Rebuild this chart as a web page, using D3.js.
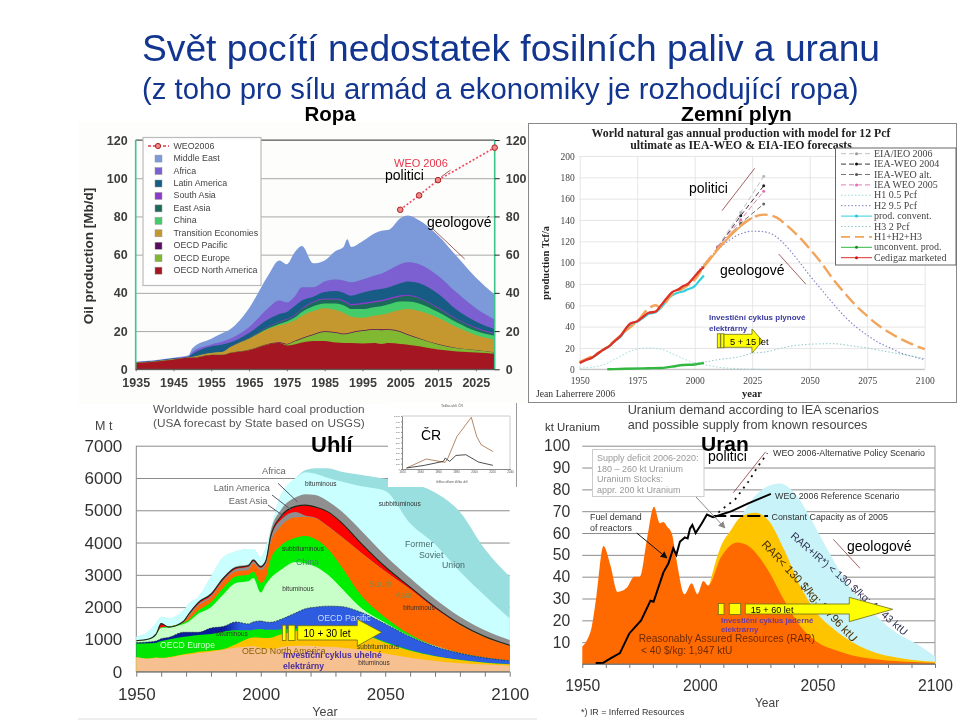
<!DOCTYPE html>
<html><head><meta charset="utf-8">
<script src="https://cdn.jsdelivr.net/npm/d3@7/dist/d3.min.js"></script>
<style>html,body{margin:0;background:#fff}svg{display:block;font-family:"Liberation Sans",Arial,sans-serif}</style>
</head><body><svg id="c" width="960" height="720"></svg>
<script>
// ---------- OIL ----------
const oilYears=[1935,1940,1945,1949,1950,1955,1958,1960,1965,1970,1973,1975,1977,1979,1982,1985,1988,1990,1991,1992,1995,1998,2000,2002,2005,2007,2010,2015,2020,2025,2030];
const oilNorthAmerica=[3.3,4,5,6,6,7.5,7.5,8.5,10,13,13.7,12.5,13,14,14.8,14.8,14,13.8,13.7,13.7,13.5,13.7,13.3,13.7,13.2,12.8,12,10.3,9.3,8.8,8.2];
const oilEurope=[3.3,4,5,6,6.1,7.6,7.6,8.6,10.1,13.1,13.8,13,14.5,16,18,19.5,19,18.3,18.5,19,20,20.7,20.5,20.6,19.5,18,16,13,11,10,8.8];
const oilPacific=[3.3,4,5,6,6.1,7.6,7.6,8.6,10.2,13.3,14.1,13.3,14.8,16.4,18.4,19.9,19.4,18.7,18.9,19.4,20.4,21.1,20.9,21,19.9,18.3,16.3,13.2,11.2,10.1,8.9];
const oilTransition=[3.4,4.1,5.2,6.2,6.5,8.5,9,11.5,16,21,23,24,25.5,28,30.5,32,31,29.5,28.5,27.5,27,28,28.5,29.5,31,31.5,30.5,27,22,18,15.5];
const oilChina=[3.4,4.1,5.2,6.2,6.5,8.5,9,11.5,16,21.3,23.7,25,27,30,33,34.5,34.5,33.5,32.5,31.5,31.5,32.5,33,34,35.5,35.5,34.5,30,24.5,20,17.5];
const oilEastAsia=[3.5,4.2,5.3,6.3,6.7,8.7,9.3,11.8,16.5,22,24.7,26,28,31.5,35,36.5,36.5,35.5,34.5,33.5,34,35,35.5,36.5,38,38.5,37,32,26,21.5,18.5];
const oilSouthAsia=[3.5,4.2,5.3,6.3,6.7,8.7,9.3,11.9,16.7,22.3,25,26.4,28.4,32,35.5,37,37,36.2,35.2,34.2,34.8,35.8,36.3,37.3,38.7,39,37.5,32.5,26.5,22,19];
const oilLatinAmerica=[3.7,4.4,5.6,6.6,8,12,13,14,19,26,29,30,33,36,38,40.5,41,40,39,38.5,40,41.5,42,43,45,46,45,39.5,31,25,21];
const oilAfrica=[3.8,4.5,5.8,6.8,9,13,14.5,16,22,32,36,35,38,43,43,46,47,46.5,46,45.5,47,49,50,52,55,56,55,49,40,32,26];
const oilMiddleEast=[4,4.7,6,7.3,11,16,19,21,32,49,57,55,61,64.5,55.5,57,62,64,68,64,67,71,72.5,73,79,80.5,78,70,59,48,39];
const weoYears=[2005,2010,2015,2030];
const weoValues=[83.5,91,99,116];
const oilLegend=["Middle East","Africa","Latin America","South Asia","East Asia","China","Transition Economies","OECD Pacific","OECD Europe","OECD North America"];
const oilYTicks=[0,20,40,60,80,100,120];
const oilXTicks=[1935,1945,1955,1965,1975,1985,1995,2005,2015,2025];
// ---------- GAS ----------
const gasHistYears=[1950,1953,1955,1958,1960,1963,1965,1968,1970,1972,1975,1978,1980,1983,1985,1988,1990,1993,1995,1997,2000,2002,2004];
const gasCedigaz=[6,9,10.5,15,18,22,26,32,38,43,45,50,53,54,59,67,72,75,78,80,87,92,96];
const gasConvent=[6,9,10.5,14.5,18,22,26,31,37,42,44.5,49,52,53.5,57,65,69,72,73,75,78,83,88];
const gasTotalYears=[1950,1960,1970,1975,1980,1983,1985,1990,1995,2000,2005,2010,2015,2020,2025,2030,2035,2040,2045,2050,2055,2060,2065,2070,2075,2080,2085,2090,2095,2100];
const gasTotal=[7,18,36,45,57,60,58,70,76,84,100,113,125,135,142,145,143,135,125,113,100,85,72,60,50,41,34,28,23,19];
const gasH1Years=[1950,1960,1965,1970,1975,1980,1985,1990,1995,2000,2005,2010,2020,2030];
const gasH1=[1,4,9,15,19,20,19,15,10,6,4,2,0.5,0];
const gasH2Years=[2000,2005,2010,2015,2020,2025,2030,2035,2040,2045,2050,2055,2060,2065,2070,2075,2080,2085,2090,2095,2100];
const gasH2=[88,101,112,121,127,129.5,129,125,115,102,88,75,62,50,40,32,25,20,15,12,9];
const gasH3Years=[2000,2005,2010,2020,2025,2030,2040,2050,2060,2070,2075,2080,2090,2100];
const gasH3=[6,7,9,12,15,16,21,23.5,24,21.5,20,18,14,10];
const gasUnconvYears=[1962,1970,1980,1985,1990,1995,2000,2004];
const gasUnconv=[0,0.5,1,1.2,2.5,4,4.5,6];
const gasWeoYears=[2010,2020,2030];
const gasEIA=[115,147,181];
const gasWEO2004=[114,144,172];
const gasWEOalt=[113,137,155];
const gasWEO2005=[115,140,167];
const gasLegend=["EIA/IEO 2006","IEA-WEO 2004","IEA-WEO alt.","IEA WEO 2005","H1 0.5 Pcf","H2 9.5 Pcf","prod. convent.","H3 2 Pcf","H1+H2+H3","unconvent. prod.","Cedigaz marketed"];
const gasYTicks=[0,20,40,60,80,100,120,140,160,180,200];
const gasXTicks=[1950,1975,2000,2025,2050,2075,2100];
// ---------- COAL ----------
const coalYears=[1950,1955,1958,1960,1963,1969,1971,1975,1980,1985,1990,1995,1997,2000,2002,2004,2008,2014,2018,2022,2027,2032,2040,2050,2060,2070,2080,2090,2100];
const coalNABit=[450,400,430,420,430,520,530,580,620,680,750,780,790,740,730,700,760,800,800,790,770,750,680,560,430,330,260,220,190];
const coalNASub=[450,410,440,430,450,540,560,620,650,700,850,1030,1060,1050,1040,1050,1150,1250,1300,1320,1340,1320,1180,900,650,480,360,280,230];
const coalEurope=[870,880,900,950,1000,1080,1100,1140,1170,1240,1280,1280,1300,1320,1300,1300,1310,1340,1370,1380,1380,1350,1210,930,670,490,370,285,235];
const coalPacific=[900,920,950,1020,1060,1220,1220,1220,1350,1400,1540,1480,1540,1570,1540,1530,1620,1820,1950,2000,2030,2020,1850,1480,1080,780,570,430,340];
const coalChinaBit=[950,1000,1150,1350,1380,1480,1550,1800,2000,2400,2750,2800,2900,2450,2700,2900,3150,3400,3350,3250,3000,2620,2000,1520,1100,800,575,432,342];
const coalChinaSub=[950,1000,1150,1370,1400,1520,1600,1900,2150,2600,2950,3000,3100,2750,2900,3500,3900,4150,4200,4100,3800,3300,2400,1680,1150,800,578,434,344];
const coalSouthAsia=[950,1000,1160,1380,1400,1530,1700,2050,2300,2800,3100,3150,3350,3150,3300,4000,4500,4780,4800,4750,4500,4200,3700,3100,2550,1950,1450,1070,800];
const coalEastAsia=[950,1000,1160,1380,1400,1550,1750,2100,2350,2850,3180,3250,3420,3220,3400,4150,4700,4950,4830,4770,4510,4210,3710,3110,2560,1960,1460,1080,810];
const coalLatin=[960,1010,1170,1490,1380,1560,1780,2150,2400,2900,3220,3280,3450,3250,3420,4200,4800,5120,5160,5100,4950,4650,4000,3250,2620,2000,1480,1090,820];
const coalAfrica=[960,1010,1170,1500,1390,1590,1790,2170,2430,2930,3260,3320,3490,3290,3460,4350,5000,5400,5500,5470,5280,5000,4400,3600,2900,2250,1700,1280,980];
const coalFSUBit=[1080,1250,1500,1700,1650,1900,2100,2320,2940,3550,3720,3800,3800,3550,3850,4400,5450,6000,6180,6130,6000,5900,5750,5600,4600,3950,3100,2350,1650];
const coalFSUSub=[1080,1250,1500,1700,1650,1900,2100,2320,2940,3550,3720,3800,3800,3550,3850,4400,5450,6000,6250,6300,6300,6200,6100,5980,5850,5550,4950,3800,2950];
const coalYTicks=[0,1000,2000,3000,4000,5000,6000,7000];
const coalXLabels=[1950,2000,2050,2100];
const coalXTicks=d3.range(1950,2101,10);
// inset: Czech coal
const czYearsA=[1925,1947,1968,1971,1981,1997,2003,2008,2021];
const czBrown=[19,188,125,206,612,975,612,456,331];
const czYearsB=[1925,1945,1966,1968,1973,1980,1991,2005,2021];
const czBlack=[19,69,144,206,144,256,269,131,69];
// ---------- URANIUM ----------
const uOrangeYears=[1950,1952,1954,1956,1959,1962,1965,1969,1972,1974.5,1977.5,1980.5,1983,1984.5,1986,1988,1990,1993.5,1996.5,1999,2001.5,2003.5,2009,2016,2020,2029,2036,2043,2050,2057.5,2071.5,2100];
const uOrange=[8,11,17,31,54,45,33,35,40,40,57,72,64.5,65,63,60,48,32,37,32,38,36,49,55.7,54.5,43,29,17,10,6.4,2.6,0.5];
const uYellowYears=[2004,2009,2013,2017.5,2023.5,2029,2036,2043,2050,2057.5,2071.5,2085.5,2100];
const uYellow=[36,54,61,67.5,69.3,66,52,35,23,15.5,6.4,2.6,1];
const uCyanYears=[2017.5,2022,2029,2034,2040.5,2047.5,2054.5,2064.5,2071.5,2078.5,2085.5,2093,2100];
const uCyan=[67.5,75,81.5,82.7,78,66,52,34,26,18.6,13,8.7,3.4];
const uDemandYears=[1955.7,1959,1962,1966,1970,1975,1979,1980.3,1984.5,1986.6,1988.7,1990,1991.5,1993.6,1994.8,1995.8,1996.8,1998.2,2000.8,2003,2005.7];
const uDemand=[0.5,0.6,2.6,5,14,20,29,28.5,42,46,53,50,56,58,57.5,62,63.7,60,64.4,68.5,67.2];
const uRefYears=[2005.7,2013.5,2020.6,2030.2];
const uRef=[67.2,70,73.6,77.9];
const uAltYears=[2005.7,2009,2015,2020.6,2025,2028.7];
const uAlt=[67.2,70.5,75.4,83.5,91,96.5];
const uConstYears=[2005.7,2029];
const uConst=[67.8,67.8];
const uYTicks=[10,20,30,40,50,60,70,80,90,100];
const uGrid=[0,10,20,30,40,50,60,70,80,90,100];
const uXLabels=[1950,2000,2050,2100];
const uXTicks=d3.range(1950,2101,10);

const svg=d3.select("#c");
const defs=svg.append("defs");
const soft=defs.append("filter").attr("id","soft").attr("filterUnits","userSpaceOnUse").attr("x",0).attr("y",0).attr("width",960).attr("height",720);
soft.append("feGaussianBlur").attr("stdDeviation",0.6);
function marker(id,color){defs.append("marker").attr("id",id).attr("viewBox","0 0 10 10").attr("refX",9).attr("refY",5).attr("markerWidth",7).attr("markerHeight",7).attr("orient","auto").append("path").attr("d","M0 0L10 5L0 10Z").attr("fill",color);}
marker("ab","#111");marker("ag","#888");
const zip=(a,b)=>a.map((v,i)=>[v,b[i]]);
function txt(g,x,y,s,o={}){const t=g.append("text").attr("x",x).attr("y",y).text(s)
  .attr("font-size",o.size||12).attr("fill",o.fill||"#000");
  if(o.bold)t.attr("font-weight","bold");if(o.anchor)t.attr("text-anchor",o.anchor);if(o.font)t.attr("font-family",o.font);
  if(o.rot!=null)t.attr("transform",`rotate(${o.rot} ${x} ${y})`);if(o.op)t.attr("opacity",o.op);return t;}
function areaOf(x,y){return d3.area().x(d=>x(d[0])).y0(y.range()[0]).y1(d=>y(d[1])).curve(d3.curveMonotoneX);}
function lineOf(x,y,c){return d3.line().x(d=>x(d[0])).y(d=>y(d[1])).curve(c||d3.curveMonotoneX);}
function grid(g,y,x,ticks,color,w){const a=g.append("g").attr("transform",`translate(${x.range()[0]},0)`)
  .call(d3.axisLeft(y).tickValues(ticks).tickSize(x.range()[0]-x.range()[1]).tickFormat(""));
  a.select(".domain").remove();a.selectAll("line").attr("stroke",color).attr("stroke-width",w||1);}
function styleAxis(a,o){a.select(".domain").remove();a.selectAll("line").attr("stroke",o.tick||"#666");
  a.selectAll("text").attr("font-size",o.size).attr("fill",o.fill).attr("font-weight",o.bold?"bold":"normal").attr("font-family",o.font||null);}
function legendLine(g,x1,x2,y,st){g.append("line").attr("x1",x1).attr("x2",x2).attr("y1",y).attr("y2",y).attr("stroke",st[0]).attr("stroke-width",st[2]||1).attr("stroke-dasharray",st[1]||null);
  if(st[3])g.append("circle").attr("cx",(x1+x2)/2).attr("cy",y).attr("r",1.5).attr("fill",st[3]);}
function blockArrow(g,rects,bx,by0,by1,hx,hy0,hy1,tip,cy,fill){
  rects.forEach(r=>g.append("rect").attr("x",r[0]).attr("y",by0-0.5).attr("width",r[1]).attr("height",by1-by0+1).attr("fill",fill).attr("stroke","#6b6b20").attr("stroke-width",0.8));
  g.append("path").attr("d",`M${bx} ${by0}H${hx}V${hy0}L${tip} ${cy}L${hx} ${hy1}V${by1}H${bx}Z`).attr("fill",fill).attr("stroke","#6b6b20").attr("stroke-width",0.8);}

// ===== OIL PANEL =====
{
 const g=svg.append("g").attr("filter","url(#soft)");
 const x=d3.scaleLinear().domain([1935,2030]).range([135.7,494.7]);
 const y=d3.scaleLinear().domain([0,120]).range([369.3,140]);
 g.append("rect").attr("x",78).attr("y",123).attr("width",449).attr("height",281).attr("fill","#fdfdfb");
 grid(g,y,x,oilYTicks,"#a8a8a8",1);
 g.append("line").attr("x1",x(1935)).attr("x2",x(2030)).attr("y1",y(120)).attr("y2",y(120)).attr("stroke","#555");
 const cols=["#7b99d9","#7b5fd0","#155c85","#8a3bc8","#1d6b5b","#45cc6a","#c4982f","#5a1060","#80b830","#a31823"];
 const sers=[oilMiddleEast,oilAfrica,oilLatinAmerica,oilSouthAsia,oilEastAsia,oilChina,oilTransition,oilPacific,oilEurope,oilNorthAmerica];
 const ar=areaOf(x,y);
 sers.forEach((s,i)=>g.append("path").attr("d",ar(zip(oilYears,s))).attr("fill",cols[i]));
 [x(1935),x(2030)].forEach(v=>g.append("line").attr("x1",v).attr("x2",v).attr("y1",y(120)).attr("y2",y(0)).attr("stroke","#3cc48c").attr("stroke-width",1.6));
 const opt={size:12.5,fill:"#3c3c3c",bold:true};
 const a1=g.append("g").attr("transform",`translate(${x(1935)},0)`).call(d3.axisLeft(y).tickValues(oilYTicks).tickSize(0).tickPadding(8));styleAxis(a1,opt);
 const a2=g.append("g").attr("transform",`translate(${x(2030)},0)`).call(d3.axisRight(y).tickValues(oilYTicks).tickSize(5).tickPadding(6).tickFormat(d3.format("d")));styleAxis(a2,Object.assign({tick:"#222"},opt));
 const a3=g.append("g").attr("transform",`translate(0,${y(0)})`).call(d3.axisBottom(x).tickValues(oilXTicks).tickFormat(d3.format("d")).tickSize(2).tickPadding(7));styleAxis(a3,opt);
 g.append("line").attr("x1",x(1935)).attr("x2",x(2030)).attr("y1",y(0)).attr("y2",y(0)).attr("stroke","#555");
 txt(g,93,256,"Oil production [Mb/d]",{size:13.5,bold:true,fill:"#333",anchor:"middle",rot:-90});
 const L=zip(weoYears,weoValues);
 g.append("path").attr("d",d3.line().x(d=>x(d[0])).y(d=>y(d[1]))(L)).attr("fill","none").attr("stroke","#ef4a62").attr("stroke-width",1.6).attr("stroke-dasharray","2 2");
 g.selectAll("circle.w").data(L).enter().append("circle").attr("cx",d=>x(d[0])).attr("cy",d=>y(d[1])).attr("r",2.8).attr("fill","#f08a8a").attr("stroke","#a82222").attr("stroke-width",1);
 txt(g,394,167,"WEO 2006",{size:11,fill:"#e8344a"});
 const lg=g.append("g");
 lg.append("rect").attr("x",143).attr("y",137.5).attr("width",118).attr("height",148).attr("fill","#fff").attr("stroke","#bbb").attr("stroke-width",1.2);
 lg.append("line").attr("x1",148).attr("x2",169).attr("y1",146).attr("y2",146).attr("stroke","#e8344a").attr("stroke-dasharray","3 2").attr("stroke-width",1.4);
 lg.append("circle").attr("cx",158).attr("cy",146).attr("r",2.6).attr("fill","#f08a8a").attr("stroke","#a82222");
 txt(lg,173.5,149,"WEO2006",{size:8.85,fill:"#444"});
 oilLegend.forEach((n,i)=>{const yy=158.6+i*12.45;
  lg.append("rect").attr("x",155).attr("y",yy-3.5).attr("width",7).attr("height",7).attr("fill",cols[i]).attr("stroke","#999").attr("stroke-width",.5);
  txt(lg,173.5,yy+2.5,n,{size:8.85,fill:"#444"});});
}
// ===== GAS PANEL =====
{
 const g=svg.append("g").attr("filter","url(#soft)");
 const x=d3.scaleLinear().domain([1950,2100]).range([579.7,924.7]);
 const y=d3.scaleLinear().domain([0,200]).range([369.3,156]);
 g.append("rect").attr("x",528.5).attr("y",123.5).attr("width",428).attr("height",279).attr("fill","#fff").attr("stroke","#888").attr("stroke-width",1);
 grid(g,y,x,gasYTicks,"#dfdfdf",.8);
 const v=g.append("g").attr("transform",`translate(0,${y(0)})`).call(d3.axisBottom(x).tickValues(gasXTicks).tickFormat(d3.format("d")).tickSize(y(200)-y(0)).tickPadding(0));
 v.select(".domain").remove();v.selectAll("line").attr("stroke","#dfdfdf").attr("stroke-width",.8);v.selectAll("text").remove();
 const a1=g.append("g").attr("transform",`translate(${x(1950)},0)`).call(d3.axisLeft(y).tickValues(gasYTicks).tickSize(0).tickPadding(5));
 styleAxis(a1,{size:9.5,fill:"#444",font:"Liberation Serif"});
 const a2=g.append("g").attr("transform",`translate(0,${y(0)})`).call(d3.axisBottom(x).tickValues(gasXTicks).tickFormat(d3.format("d")).tickSize(0).tickPadding(8));
 styleAxis(a2,{size:9.5,fill:"#444",font:"Liberation Serif"});
 g.append("line").attr("x1",x(1950)).attr("x2",x(2100)).attr("y1",y(0)).attr("y2",y(0)).attr("stroke","#bbb");
 const L=lineOf(x,y),draw=(xs,ys,c,w,d)=>g.append("path").attr("d",L(zip(xs,ys))).attr("fill","none").attr("stroke",c).attr("stroke-width",w).attr("stroke-dasharray",d||null);
 const SL=d3.line().x(d=>x(d[0])).y(d=>y(d[1]));
 [[gasEIA,"#b9b9b9"],[gasWEO2004,"#222"],[gasWEOalt,"#666"],[gasWEO2005,"#e070b0"]].forEach(s=>{
  g.append("path").attr("d",SL(zip(gasWeoYears,s[0]))).attr("fill","none").attr("stroke",s[1]).attr("stroke-width",.9).attr("stroke-dasharray","5 3");
  g.selectAll(null).data(zip(gasWeoYears,s[0])).enter().append("circle").attr("cx",d=>x(d[0])).attr("cy",d=>y(d[1])).attr("r",1.5).attr("fill",s[1]);});
 draw(gasH1Years,gasH1,"#9fdcdc",1,"1.5 2");
 draw(gasH2Years,gasH2,"#7d80c0",1.1,"1.5 2");
 draw(gasH3Years,gasH3,"#90c8c8",1,"1.5 2");
 draw(gasUnconvYears,gasUnconv,"#30b840",2.4);
 draw(gasHistYears,gasConvent,"#30d0e0",2.2);
 draw(gasTotalYears,gasTotal,"#f2a45a",2.4,"13 5");
 draw(gasHistYears.concat([2010,2020,2025]),gasCedigaz.concat([112,134,142]),"#f2a45a",1.8);
 draw(gasHistYears,gasCedigaz,"#dd3028",2.3);
 txt(g,741,136.5,"World natural gas annual production with model for 12 Pcf",{size:11.8,bold:true,anchor:"middle",font:"Liberation Serif",fill:"#222"});
 txt(g,741,148.5,"ultimate as IEA-WEO & EIA-IEO forecasts",{size:11.8,bold:true,anchor:"middle",font:"Liberation Serif",fill:"#222"});
 txt(g,549,263,"production Tcf/a",{size:10.5,bold:true,anchor:"middle",rot:-90,font:"Liberation Serif",fill:"#222"});
 txt(g,752,397,"year",{size:10.5,bold:true,anchor:"middle",font:"Liberation Serif",fill:"#222"});
 txt(g,536,397,"Jean Laherrere 2006",{size:9.7,font:"Liberation Serif",fill:"#333"});
 const lg=g.append("g");
 lg.append("rect").attr("x",835.5).attr("y",148).attr("width",120.5).attr("height",117).attr("fill","#fff").attr("fill-opacity",.85).attr("stroke","#666").attr("stroke-width",1);
 const st=[["#b9b9b9","5 3",.9,"#999"],["#222","5 3",.9,"#111"],["#666","5 3",.9,"#555"],["#e070b0","5 3",.9,"#e070b0"],["#9fdcdc","1.5 2",1],["#7d80c0","1.5 2",1],["#30d0e0",null,1,"#20c8d8"],["#90c8c8","1.5 2",1],["#f2a45a","9 5",1.6],["#30b840",null,1,"#208828"],["#dd3028",null,1,"#c01818"]];
 gasLegend.forEach((n,i)=>{const yy=153.7+i*10.4;legendLine(lg,841,872,yy,st[i]);
  txt(lg,874,yy+3,n,{size:10,font:"Liberation Serif",fill:"#444"});});
}
// ===== COAL PANEL =====
{
 const g=svg.append("g").attr("filter","url(#soft)");
 const x=d3.scaleLinear().domain([1950,2100]).range([136.3,509.7]);
 const y=d3.scaleLinear().domain([0,7000]).range([671.7,445.7]);
 grid(g,y,x,coalYTicks,"#8c8c8c",1);
 g.append("line").attr("x1",x(1950)).attr("x2",x(1950)).attr("y1",y(7000)).attr("y2",y(0)).attr("stroke","#888");
 const grad=defs.append("linearGradient").attr("id","pac").attr("gradientUnits","userSpaceOnUse").attr("x1",x(1950)).attr("x2",x(2100)).attr("y1",0).attr("y2",0);
 grad.append("stop").attr("offset",(1985-1950)/150).attr("stop-color","#0a1a9a");
 grad.append("stop").attr("offset",(1992-1950)/150).attr("stop-color","#2d5be0");
 const ar=areaOf(x,y);
 [[coalFSUSub,"#9adfe0"],[coalFSUBit,"#c9ffff"],[coalAfrica,"#8f8f8f"],[coalLatin,"#ff0000"],[coalEastAsia,"#8f8f8f"],[coalSouthAsia,"#ff6600"],[coalChinaSub,"#00ee00"],[coalChinaBit,"#c8ffc8"],[coalPacific,"url(#pac)"],[coalEurope,"#00e600"],[coalNASub,"#ffc000"],[coalNABit,"#f6c090"]]
  .forEach(s=>g.append("path").attr("d",ar(zip(coalYears,s[0]))).attr("fill",s[1]));
 g.append("path").attr("d",lineOf(x,y)(zip(coalYears,coalLatin))).attr("fill","none").attr("stroke","#1a2a1a").attr("stroke-width",1.1);
 g.append("path").attr("d",lineOf(x,y)(zip(coalYears,coalPacific))).attr("fill","none").attr("stroke","#123").attr("stroke-width",.7).attr("stroke-dasharray","2 1");
 const a3=g.append("g").attr("transform",`translate(0,${y(0)})`).call(d3.axisBottom(x).tickValues(coalXTicks).tickFormat(d=>coalXLabels.includes(d)?d:"").tickSize(5).tickPadding(11));
 styleAxis(a3,{size:17,fill:"#333",tick:"#777"});a3.selectAll("line").attr("stroke","#777");
 g.append("line").attr("x1",x(1950)).attr("x2",x(2100)).attr("y1",y(0)).attr("y2",y(0)).attr("stroke","#777");
 const a1=g.append("g").attr("transform",`translate(${x(1950)},0)`).call(d3.axisLeft(y).tickValues(coalYTicks).tickFormat(d3.format("d")).tickSize(0).tickPadding(14));
 styleAxis(a1,{size:17,fill:"#333"});
 txt(g,153,413,"Worldwide possible hard coal production",{size:11.8,fill:"#555"});
 txt(g,153,427,"(USA forecast by State based on USGS)",{size:11.8,fill:"#555"});
 txt(g,95,430,"M t",{size:12.5,fill:"#444"});
 txt(g,325,716,"Year",{size:12.5,fill:"#444",anchor:"middle"});
 g.append("line").attr("x1",78).attr("x2",537).attr("y1",719).attr("y2",719).attr("stroke","#ddd");
 const gr={size:9.3,fill:"#666"};
 txt(g,262,474,"Africa",gr);txt(g,213.7,491,"Latin America",gr);txt(g,228.7,504,"East Asia",gr);
 [[278,483.3,297.3,501.7],[272,495,291.3,510],[268,505,284.7,516.7]].forEach(l=>g.append("line").attr("x1",l[0]).attr("y1",l[1]).attr("x2",l[2]).attr("y2",l[3]).attr("stroke","#556"));
 const sm=(cx,yy,s)=>txt(g,cx,yy,s,{size:6.5,anchor:"middle",fill:"#333"});
 sm(320.7,486,"bituminous");sm(399.7,506,"subbituminous");sm(303,551,"subbituminous");sm(298,591,"bituminous");sm(419,610,"bituminous");sm(232,636,"bituminous");sm(378,649,"subbituminous");sm(374,665,"bituminous");
 const lb={size:8.8,fill:"#4a6a6a"};txt(g,405,547,"Former",lb);txt(g,419,558,"Soviet",lb);txt(g,442,568,"Union",lb);
 txt(g,369,587,"South",{size:8.8,fill:"#884"});txt(g,395,598,"Asia",{size:8.8,fill:"#884"});
 txt(g,296,565,"China",{size:8.8,fill:"#486"});
 txt(g,317.5,621,"OECD Pacific",{size:8.7,fill:"#c8d8ff"});
 txt(g,160,648,"OECD Europe",{size:8.6,fill:"#d0ffd0"});
 txt(g,242,654,"OECD North America",{size:8.8,fill:"#8a6000"});
 const ig=g.append("g");
 ig.append("rect").attr("x",388).attr("y",403).attr("width",128).attr("height",84).attr("fill","#fff");
 ig.append("line").attr("x1",516.5).attr("x2",516.5).attr("y1",403).attr("y2",487).attr("stroke","#999");
 const ix=d3.scaleLinear().domain([1920,2040]).range([402,510]),iy=d3.scaleLinear().domain([0,1000]).range([469,416]);
 const b=ig.append("g").attr("transform","translate(0,469)").call(d3.axisBottom(ix).ticks(7).tickFormat(d3.format("d")).tickSize(1).tickPadding(1));
 b.select(".domain").attr("stroke","#888");b.selectAll("text").attr("font-size",3).attr("fill","#555");b.selectAll("line").attr("stroke","#888");
 const l=ig.append("g").attr("transform","translate(402,0)").call(d3.axisLeft(iy).ticks(10).tickSize(1).tickPadding(1));
 l.select(".domain").attr("stroke","#888");l.selectAll("text").attr("font-size",2.5).attr("fill","#555");l.selectAll("line").attr("stroke","#888");
 ig.append("line").attr("x1",402).attr("x2",510).attr("y1",416).attr("y2",416).attr("stroke","#ccc");
 ig.append("line").attr("x1",510).attr("x2",510).attr("y1",416).attr("y2",469).attr("stroke","#ccc");
 const il=d3.line().x(d=>ix(d[0])).y(d=>iy(d[1]));
 ig.append("path").attr("d",il(zip(czYearsA,czBrown))).attr("fill","none").attr("stroke","#a06a40").attr("stroke-width",.8);
 ig.append("path").attr("d",il(zip(czYearsB,czBlack))).attr("fill","none").attr("stroke","#222").attr("stroke-width",.8);
 txt(ig,452,407,"Težba uhlí ČR",{size:3.5,anchor:"middle",fill:"#555"});
 txt(ig,452,483,"těžba celkem   těžba uhlí",{size:3,anchor:"middle",fill:"#555"});
}
// ===== URANIUM PANEL =====
{
 const g=svg.append("g").attr("filter","url(#soft)");
 const x=d3.scaleLinear().domain([1950,2100]).range([582.3,935]);
 const y=d3.scaleLinear().domain([0,100]).range([664,445.7]);
 grid(g,y,x,uGrid,"#8c8c8c",1);
 g.append("line").attr("x1",x(2100)).attr("x2",x(2100)).attr("y1",y(100)).attr("y2",y(0)).attr("stroke","#999");
 const ar=areaOf(x,y);
 g.append("path").attr("d",ar(zip(uCyanYears,uCyan))).attr("fill","#c8f3f8");
 g.append("path").attr("d",ar(zip(uYellowYears,uYellow))).attr("fill","#ffc400");
 g.append("path").attr("d",ar(zip(uOrangeYears,uOrange))).attr("fill","#ff6a00");
 const a3=g.append("g").attr("transform",`translate(0,${y(0)})`).call(d3.axisBottom(x).tickValues(uXTicks).tickFormat(d=>uXLabels.includes(d)?d:"").tickSize(4).tickPadding(12));
 styleAxis(a3,{size:15.7,fill:"#333"});a3.selectAll("line").attr("stroke","#777");
 g.append("line").attr("x1",x(1950)).attr("x2",x(2100)).attr("y1",y(0)).attr("y2",y(0)).attr("stroke","#777");
 const a1=g.append("g").attr("transform",`translate(${x(1950)},0)`).call(d3.axisLeft(y).tickValues(uYTicks).tickSize(0).tickPadding(12));
 styleAxis(a1,{size:15.7,fill:"#333"});
 const L=d3.line().x(d=>x(d[0])).y(d=>y(d[1]));
 g.append("path").attr("d",L(zip(uDemandYears,uDemand))).attr("fill","none").attr("stroke","#000").attr("stroke-width",2);
 g.append("path").attr("d",L(zip(uRefYears,uRef))).attr("fill","none").attr("stroke","#000").attr("stroke-width",2);
 g.append("path").attr("d",L(zip(uAltYears,uAlt))).attr("fill","none").attr("stroke","#111").attr("stroke-width",1.8).attr("stroke-dasharray","2 5");
 g.append("path").attr("d",L(zip(uConstYears,uConst))).attr("fill","none").attr("stroke","#000").attr("stroke-width",2).attr("stroke-dasharray","13 4");
 g.append("rect").attr("x",592.5).attr("y",449.5).attr("width",111.5).attr("height",47).attr("fill","#fff").attr("stroke","#ccc").attr("stroke-width",1);
 ["Supply deficit 2006-2020:","180 – 260 kt Uranium","Uranium Stocks:","appr. 200 kt Uranium"].forEach((s,i)=>txt(g,597,461+i*10.6,s,{size:9,fill:"#999"}));
 g.append("line").attr("x1",696).attr("y1",497).attr("x2",725).attr("y2",528).attr("stroke","#888").attr("marker-end","url(#ag)");
 g.append("line").attr("x1",636.7).attr("y1",533).attr("x2",667).attr("y2",558).attr("stroke","#111").attr("marker-end","url(#ab)");
 const t={size:12.7,fill:"#444"};
 txt(g,627.7,414,"Uranium demand according to IEA scenarios",t);
 txt(g,627.7,429,"and possible supply from known resources",t);
 txt(g,545,431,"kt Uranium",{size:11.4,fill:"#333"});
 txt(g,767,707,"Year",{size:12,fill:"#444",anchor:"middle"});
 txt(g,581,715,"*) IR = Inferred Resources",{size:8.9,fill:"#333"});
 const s={size:8.9,fill:"#333"};
 txt(g,773,456,"WEO 2006-Alternative Policy Scenario",s);
 txt(g,775,499,"WEO 2006 Reference Scenario",s);
 txt(g,771.5,520,"Constant Capacity as of 2005",s);
 txt(g,590,520,"Fuel demand",{size:8.9,fill:"#333"});txt(g,590,531,"of reactors",{size:8.9,fill:"#333"});
 txt(g,638.7,642,"Reasonably Assured Resources (RAR)",{size:10.2,fill:"#6e2a00"});
 txt(g,641,654,"< 40 $/kg: 1,947 ktU",{size:10.2,fill:"#6e2a00"});
 txt(g,761,545,"RAR< 130 $/kg: 2,796 ktU",{size:11.5,fill:"#4a3200",rot:47});
 txt(g,790,537,"RAR+IR*) < 130 $/kg: 4,743 ktU",{size:10.6,fill:"#335",rot:41});
}
// ===== SLIDE OVERLAYS =====
{
 const g=svg.append("g");
 txt(g,142,61,"Svět pocítí nedostatek fosilních paliv a uranu",{size:37.2,fill:"#12358f"});
 txt(g,142,99,"(z toho pro sílu armád a ekonomiky je rozhodující ropa)",{size:29.3,fill:"#12358f"});
 txt(g,330,121,"Ropa",{size:20.5,bold:true,anchor:"middle"});
 txt(g,736.5,121,"Zemní plyn",{size:21,bold:true,anchor:"middle"});
 txt(g,311,452,"Uhlí",{size:22,bold:true});
 txt(g,701,451,"Uran",{size:21,bold:true});
 txt(g,421,440,"ČR",{size:14});
 const tt={size:14};
 txt(g,385,180,"politici",tt);txt(g,427,227,"geologové",tt);
 txt(g,689,193,"politici",tt);txt(g,720,275,"geologové",tt);
 txt(g,708,461,"politici",tt);txt(g,847,551,"geologové",tt);
 [[450.7,170,441.3,176.7],[433,229,464.7,259],[722,210.7,754.7,168.3],[778.7,254,805.7,284],[733.3,492.7,765.7,451.7],[833.3,539.3,860,568.3]]
  .forEach(l=>g.append("line").attr("x1",l[0]).attr("y1",l[1]).attr("x2",l[2]).attr("y2",l[3]).attr("stroke","#8b3a3a").attr("stroke-width",.8));
 blockArrow(g,[[282.3,3.7],[288.3,6.7]],297.7,625.7,640,357.3,619.3,646,381.7,632.3,"#ffff00");
 txt(g,303.5,637,"10 + 30 let",{size:10});
 txt(g,283,658,"Investiční cyklus uhelné",{size:8.6,bold:true,fill:"#4a2ea0"});
 txt(g,283,669,"elektrárny",{size:8.6,bold:true,fill:"#4a2ea0"});
 blockArrow(g,[[718.3,5.7],[729.3,11.4]],745.3,604,614,849.3,597.3,621.7,892.7,609.3,"#ffff00");
 txt(g,750.7,613,"15 + 60 let",{size:9.1});
 txt(g,721,623,"Investiční cyklus jaderné",{size:7.8,bold:true,fill:"#6a3aa0"});
 txt(g,721,632,"elektrárny",{size:7.8,bold:true,fill:"#6a3aa0"});
 blockArrow(g,[[717.3,3],[720.8,3.2]],724,334.3,347.3,752,329,353,762.7,341,"#ffff00");
 txt(g,730,345,"5 + 15 let",{size:9.3});
 txt(g,709,320,"Investiční cyklus plynové",{size:8,bold:true,fill:"#3a3aa0"});
 txt(g,709,331,"elektrárny",{size:8,bold:true,fill:"#3a3aa0"});
}
</script></body></html>
